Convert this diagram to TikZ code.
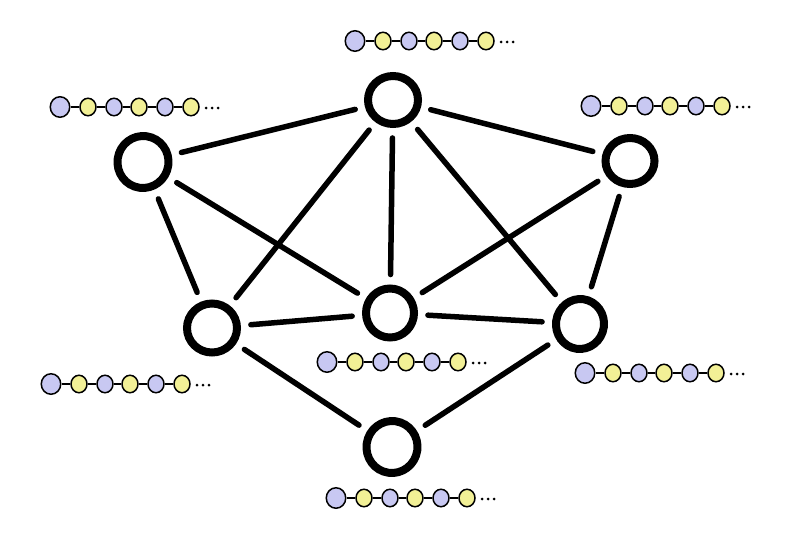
\documentclass[tikz,border=0pt]{standalone}
\usetikzlibrary{shapes.geometric}
\definecolor{lav}{RGB}{200,200,242}
\definecolor{yel}{RGB}{242,240,150}
\tikzset{
  gnode/.style={ellipse,draw=black,line width=8pt,inner sep=0pt,minimum width=50pt,minimum height=50pt},
  edge/.style={line width=5.5pt,line cap=round,shorten >=10pt,shorten <=10pt},
  bead/.style={ellipse,draw=black,line width=1.5pt,inner sep=0pt,minimum width=16pt,minimum height=17.5pt},
  bigbead/.style={bead,minimum width=19.5pt,minimum height=20.5pt},
  link/.style={line width=1.1pt},
  chaindot/.style={circle,fill=black,inner sep=0pt,minimum size=3pt},
}
\newcommand\beadchain[3]{%
  \node[bigbead,fill=lav] (#1-1) at (#2,#3) {};
  \node[bead,fill=yel] (#1-2) at (#2+28,#3) {};
  \node[bead,fill=lav] (#1-3) at (#2+54,#3) {};
  \node[bead,fill=yel] (#1-4) at (#2+79,#3) {};
  \node[bead,fill=lav] (#1-5) at (#2+105,#3) {};
  \node[bead,fill=yel] (#1-6) at (#2+131,#3) {};
  \draw[link] (#1-1) -- (#1-2);
  \draw[link] (#1-2) -- (#1-3);
  \draw[link] (#1-3) -- (#1-4);
  \draw[link] (#1-4) -- (#1-5);
  \draw[link] (#1-5) -- (#1-6);
  \node[chaindot] (#1-d1) at (#2+146,#3+1) {};
  \node[chaindot] (#1-d2) at (#2+152,#3+1) {};
  \node[chaindot] (#1-d3) at (#2+158,#3+1) {};
}
\begin{document}
\begin{tikzpicture}[x=1pt,y=-1pt]
  \fill[white] (0,0) rectangle (787,535);
  \useasboundingbox (0,0) rectangle (787,535);
  % network nodes
  \node[gnode,minimum width=50pt,minimum height=48pt] (T)  at (393,100) {};
  \node[gnode,minimum width=51pt,minimum height=52pt,rotate=-8] (LU) at (143,162) {};
  \node[gnode,minimum width=49pt,minimum height=46pt] (RU) at (630,161) {};
  \node[gnode,minimum width=50pt,minimum height=49pt] (LL) at (212,328) {};
  \node[gnode,minimum width=48pt,minimum height=49pt] (C)  at (390,313) {};
  \node[gnode,minimum width=48pt,minimum height=50pt,rotate=-8] (RL) at (580,324) {};
  \node[gnode,minimum width=51pt,minimum height=52pt,rotate=-8] (B)  at (392,447) {};
  % connectors
  \draw[edge] (T) -- (LU);
  \draw[edge] (T) -- (RU);
  \draw[edge] (T) -- (LL);
  \draw[edge] (T) -- (C);
  \draw[edge] (T) -- (RL);
  \draw[edge] (LU) -- (LL);
  \draw[edge] (LU) -- (C);
  \draw[edge] (RU) -- (C);
  \draw[edge] (RU) -- (RL);
  \draw[edge] (LL) -- (C);
  \draw[edge] (C) -- (RL);
  \draw[edge] (LL) -- (B);
  \draw[edge] (B) -- (RL);
  % bead chains
  \beadchain{ct}{355}{41}
  \beadchain{clu}{60}{107}
  \beadchain{cru}{591}{106}
  \beadchain{cc}{327}{362}
  \beadchain{cll}{51}{384}
  \beadchain{crl}{585}{373}
  \beadchain{cb}{336}{498}
\end{tikzpicture}
\end{document}
